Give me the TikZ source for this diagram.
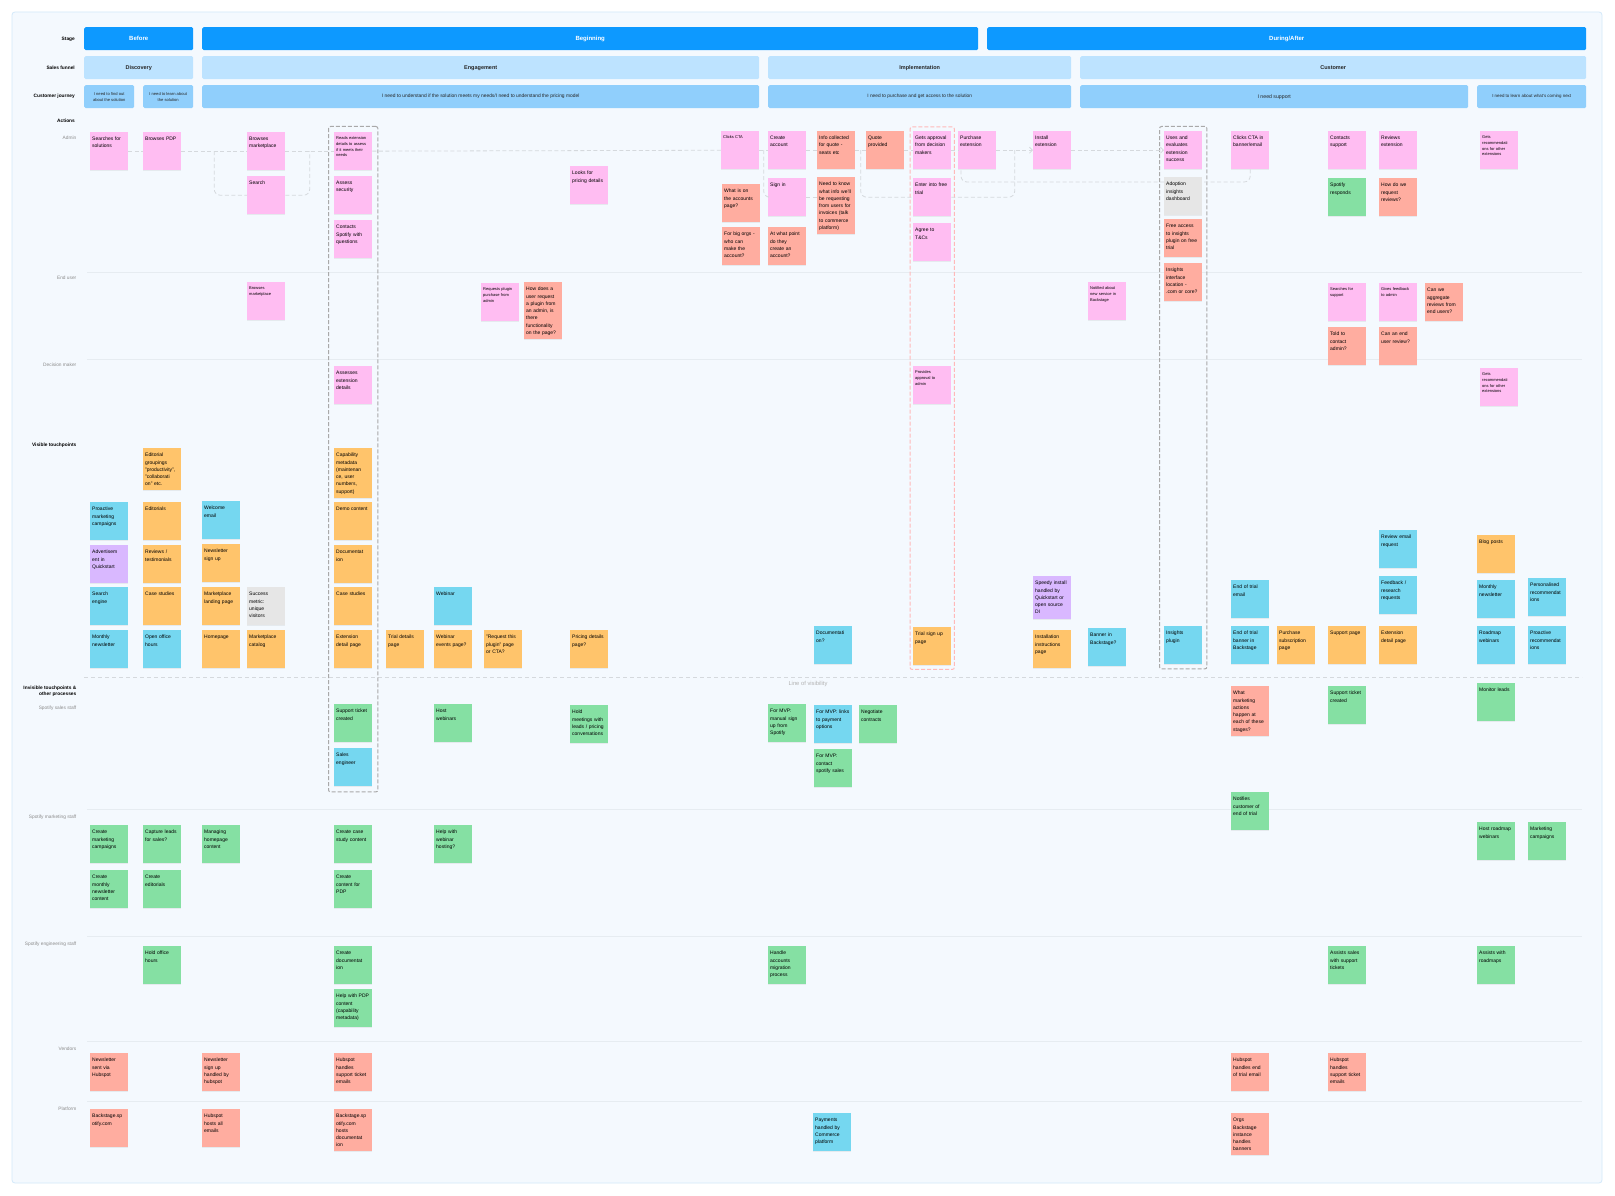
\documentclass[tikz,border=0pt]{standalone}
\usepackage{fontspec}
\setmainfont{Liberation Sans}
\usepackage{xcolor}
\usepackage{tikz}
\usetikzlibrary{arrows.meta,positioning,calc,fit,shadows}

\definecolor{boardbg}{HTML}{F4F9FE}
\definecolor{boardline}{HTML}{D3E9FA}
\definecolor{stagebg}{HTML}{0D99FF}
\definecolor{funnelbg}{HTML}{BDE3FF}
\definecolor{journeybg}{HTML}{90CFFC}
\definecolor{notepink}{HTML}{FFBDF2}
\definecolor{notesalmon}{HTML}{FFADA0}
\definecolor{noteorange}{HTML}{FFC46B}
\definecolor{noteblue}{HTML}{75D7F0}
\definecolor{notegreen}{HTML}{85E0A3}
\definecolor{notepurple}{HTML}{D9B8FF}
\definecolor{notegray}{HTML}{E6E6E6}
\definecolor{lanegray}{HTML}{E6ECF1}
\definecolor{labelgray}{HTML}{8C8C8C}
\definecolor{flowgray}{HTML}{D5D9DD}
\definecolor{groupgray}{HTML}{A9A9A9}
\definecolor{trialred}{HTML}{FFB9B9}

\begin{document}
\begin{tikzpicture}[x=1pt,y=-1pt,>=Latex]
  \tikzstyle{note}=[anchor=north west,inner xsep=2pt,inner ysep=3pt,text width=34pt,align=left,text height=5.5pt,text depth=26.5pt,font=\fontsize{5}{7.3}\selectfont,drop shadow={opacity=.12,shadow xshift=0pt,shadow yshift=-.8pt}]
  \tikzstyle{fine}=[font=\fontsize{4}{5.7}\selectfont,text height=4.5pt,text depth=27.5pt]
  \tikzstyle{pinknote}=[note,fill=notepink]
  \tikzstyle{salmonnote}=[note,fill=notesalmon]
  \tikzstyle{orangenote}=[note,fill=noteorange]
  \tikzstyle{bluenote}=[note,fill=noteblue]
  \tikzstyle{greennote}=[note,fill=notegreen]
  \tikzstyle{purplenote}=[note,fill=notepurple]
  \tikzstyle{graynote}=[note,fill=notegray]
  \tikzstyle{band}=[anchor=north west,inner sep=0pt,minimum height=23pt,rounded corners=1.5pt,align=center]
  \tikzstyle{stagebox}=[band,fill=stagebg,text=white,font=\bfseries\fontsize{6}{7}\selectfont]
  \tikzstyle{funnelbox}=[band,fill=funnelbg,text=black!85,font=\bfseries\fontsize{5.5}{6.5}\selectfont]
  \tikzstyle{journeybox}=[band,fill=journeybg,text=black!85,font=\fontsize{4.9}{5.8}\selectfont]
  \tikzstyle{rowhead}=[anchor=east,inner sep=0pt,align=right,font=\bfseries\fontsize{4.8}{6.2}\selectfont]
  \tikzstyle{lanehead}=[anchor=east,inner sep=0pt,text=labelgray,font=\fontsize{4.8}{6}\selectfont]
  \tikzstyle{flow}=[draw=flowgray,line width=.8pt,dash pattern=on 4pt off 2.5pt,rounded corners=6pt]
  \tikzstyle{group}=[draw=groupgray,line width=1pt,dash pattern=on 4pt off 2pt,rounded corners=2pt,inner sep=5pt]

  \fill[white] (0,0) rectangle (1615,1196);
  \useasboundingbox (0,0) rectangle (1615,1196);
  \filldraw[fill=boardbg,draw=boardline,line width=.8pt,rounded corners=3pt] (12,12) rectangle (1602,1183);

  % header bands
  \node[stagebox,minimum width=109pt] (before) at (84,27) {Before};
  \node[stagebox,minimum width=776pt] (beginning) at (202,27) {Beginning};
  \node[stagebox,minimum width=599pt] (during) at (987,27) {During/After};
  \node[funnelbox,minimum width=109pt] (discovery) at (84,56) {Discovery};
  \node[funnelbox,minimum width=557pt] (engagement) at (202,56) {Engagement};
  \node[funnelbox,minimum width=303pt] (implementation) at (768,56) {Implementation};
  \node[funnelbox,minimum width=506pt] (customer) at (1080,56) {Customer};
  \node[journeybox,minimum width=50pt,font=\fontsize{4.1}{5.8}\selectfont] (findout) at (84,85) {I need to find out\\about the solution};
  \node[journeybox,minimum width=50pt,font=\fontsize{4.1}{5.8}\selectfont] (learn) at (143,85) {I need to learn about\\the solution};
  \node[journeybox,minimum width=557pt] (understand) at (202,85) {I need to understand if the solution meets my needs/I need to understand the pricing model};
  \node[journeybox,minimum width=303pt,font=\fontsize{4.8}{5.8}\selectfont] (access) at (768,85) {I need to purchase and get access to the solution};
  \node[journeybox,minimum width=388pt,font=\fontsize{5.2}{6}\selectfont] (needsupport) at (1080,85) {I need support};
  \node[journeybox,minimum width=109pt,font=\fontsize{4.4}{5.8}\selectfont] (comingnext) at (1477,85) {I need to learn about what's coming next};

  % row labels
  \node[rowhead] (stagelbl) at (75,39) {Stage};
  \node[rowhead] (funnellbl) at (75,68) {Sales funnel};
  \node[rowhead] (journeylbl) at (75,96) {Customer journey};
  \node[rowhead] (actionslbl) at (75,121) {Actions};
  \node[lanehead] (adminlbl) at (76.5,138) {Admin};
  \node[lanehead] (enduserlbl) at (76.5,278) {End user};
  \node[lanehead] (deciderlbl) at (76.5,365) {Decision maker};
  \node[rowhead] (visiblelbl) at (76.5,445) {Visible touchpoints};
  \node[rowhead] (invisiblelbl) at (76.5,691) {Invisible touchpoints \&\\other processes};
  \node[lanehead] (saleslbl) at (76.5,708) {Spotify sales staff};
  \node[lanehead] (marketinglbl) at (76.5,817) {Spotify marketing staff};
  \node[lanehead] (engineeringlbl) at (76.5,944) {Spotify engineering staff};
  \node[lanehead] (vendorslbl) at (76.5,1049) {Vendors};
  \node[lanehead] (platformlbl) at (76.5,1109) {Platform};

  % lane lines
  \foreach \y in {272,359,809,936,1041,1101}
    \draw[lanegray,line width=.7pt] (87,\y) -- (1582,\y);
  \draw[flowgray,line width=.8pt,dash pattern=on 4pt off 3pt] (84,677) -- (1582,677);
  \node[text=black!30,font=\fontsize{5.8}{7}\selectfont] (visibility) at (808,684) {Line of visibility};

  % admin
  \node[pinknote] (searches) at (90,132) {Searches for\\solutions};
  \node[pinknote] (browsepdp) at (143,132) {Browses PDP};
  \node[pinknote] (browsemkt) at (247,132) {Browses\\marketplace};
  \node[pinknote] (search) at (247,176) {Search};
  \node[pinknote,fine] (readsdetails) at (334,132) {Reads extension\\details to assess\\if it meets their\\needs};
  \node[pinknote] (security) at (334,176) {Assess\\security};
  \node[pinknote] (contacts) at (334,220) {Contacts\\Spotify with\\questions};
  \node[pinknote] (pricing) at (570,166) {Looks for\\pricing details};
  \node[pinknote,fine] (clickscta) at (721,131) {Clicks CTA};
  \node[pinknote] (createacc) at (768,131) {Create\\account};
  \node[salmonnote] (accpage) at (722,184) {What is on\\the accounts\\page?};
  \node[pinknote] (signin) at (768,178) {Sign in};
  \node[salmonnote] (bigorgs) at (722,227) {For big orgs -\\who can\\make the\\account?};
  \node[salmonnote] (whatpoint) at (768,227) {At what point\\do they\\create an\\account?};
  \node[salmonnote] (infoquote) at (817,131) {Info collected\\for quote -\\seats etc};
  \node[salmonnote,text depth=45.5pt] (invoices) at (817,177) {Need to know\\what info we'll\\be requesting\\from users for\\invoices (talk\\to commerce\\platform)};
  \node[salmonnote] (quote) at (866,131) {Quote\\provided};
  \node[pinknote] (approval) at (913,131) {Gets approval\\from decision\\makers};
  \node[pinknote] (freetrial) at (913,178) {Enter into free\\trial};
  \node[pinknote] (terms) at (913,223) {Agree to\\T\&Cs};
  \node[pinknote] (purchase) at (958,131) {Purchase\\extension};
  \node[pinknote] (install) at (1033,131) {Install\\extension};
  \node[pinknote] (evaluates) at (1164,131) {Uses and\\evaluates\\extension\\success};
  \node[graynote] (dashboard) at (1164,177) {Adoption\\insights\\dashboard};
  \node[salmonnote] (freeaccess) at (1164,219) {Free access\\to insights\\plugin on free\\trial};
  \node[salmonnote] (location) at (1164,263) {Insights\\interface\\location -\\.com or core?};
  \node[pinknote] (clicksbanner) at (1231,131) {Clicks CTA in\\banner/email};
  \node[pinknote] (support) at (1328,131) {Contacts\\support};
  \node[pinknote] (reviews) at (1379,131) {Reviews\\extension};
  \node[greennote] (responds) at (1328,178) {Spotify\\responds};
  \node[salmonnote] (askreviews) at (1379,178) {How do we\\request\\reviews?};
  \node[pinknote,fine] (recsadmin) at (1480,131) {Gets\\recommendati\\ons for other\\extensions};

  % end user
  \node[pinknote,fine] (browseuser) at (247,282) {Browses\\marketplace};
  \node[pinknote,fine] (requests) at (481,283) {Requests plugin\\purchase from\\admin};
  \node[salmonnote,text depth=45.5pt] (howrequest) at (524,282) {How does a\\user request\\a plugin from\\an admin, is\\there\\functionality\\on the page?};
  \node[pinknote,fine] (notified) at (1088,282) {Notified about\\new service in\\Backstage};
  \node[pinknote,fine] (searchsupport) at (1328,283) {Searches for\\support};
  \node[pinknote,fine] (feedback) at (1379,283) {Gives feedback\\to admin};
  \node[salmonnote] (aggregate) at (1425,283) {Can we\\aggregate\\reviews from\\end users?};
  \node[salmonnote] (toldadmin) at (1328,327) {Told to\\contact\\admin?};
  \node[salmonnote] (userreview) at (1379,327) {Can an end\\user review?};

  % decision maker
  \node[pinknote] (assesses) at (334,366) {Assesses\\extension\\details};
  \node[pinknote,fine] (provides) at (913,366) {Provides\\approval to\\admin};
  \node[pinknote,fine] (recsdecider) at (1480,368) {Gets\\recommendati\\ons for other\\extensions};

  % visible touchpoints
  \node[orangenote,text depth=30.5pt] (groupings) at (143,448) {Editorial\\groupings\\"productivity",\\"collaborati\\on" etc.};
  \node[orangenote,text depth=38.5pt] (capability) at (334,448) {Capability\\metadata\\(maintenan\\ce, user\\numbers,\\support)};
  \node[bluenote] (proactive) at (90,502) {Proactive\\marketing\\campaigns};
  \node[orangenote] (editorials) at (143,502) {Editorials};
  \node[bluenote] (welcome) at (202,501) {Welcome\\email};
  \node[orangenote] (demo) at (334,502) {Demo content};
  \node[purplenote] (advert) at (90,545) {Advertisem\\ent in\\Quickstart};
  \node[orangenote] (testimonials) at (143,545) {Reviews /\\testimonials};
  \node[orangenote] (signup) at (202,544) {Newsletter\\sign up};
  \node[orangenote] (docs) at (334,545) {Documentat\\ion};
  \node[bluenote] (searchengine) at (90,587) {Search\\engine};
  \node[orangenote] (cases) at (143,587) {Case studies};
  \node[orangenote] (landing) at (202,587) {Marketplace\\landing page};
  \node[graynote] (visitors) at (247,587) {Success\\metric:\\unique\\visitors};
  \node[orangenote] (casesext) at (334,587) {Case studies};
  \node[bluenote] (newsletter) at (90,630) {Monthly\\newsletter};
  \node[bluenote] (officehours) at (143,630) {Open office\\hours};
  \node[orangenote] (homepage) at (202,630) {Homepage};
  \node[orangenote] (catalog) at (247,630) {Marketplace\\catalog};
  \node[orangenote] (detailpage) at (334,630) {Extension\\detail page};
  \node[orangenote] (trialdetails) at (386,630) {Trial details\\page};
  \node[bluenote] (webinar) at (434,587) {Webinar};
  \node[orangenote] (webinarpage) at (434,630) {Webinar\\events page?};
  \node[orangenote] (requestpage) at (484,630) {"Request this\\plugin" page\\or CTA?};
  \node[orangenote] (pricingpage) at (570,630) {Pricing details\\page?};
  \node[bluenote] (docsq) at (814,626) {Documentati\\on?};
  \node[orangenote] (trialsignup) at (913,627) {Trial sign up\\page};
  \node[purplenote,text depth=31.5pt] (speedy) at (1033,576) {Speedy install\\handled by\\Quickstart or\\open source\\DI};
  \node[orangenote] (installpage) at (1033,630) {Installation\\instructions\\page};
  \node[bluenote] (banner) at (1088,628) {Banner in\\Backstage?};
  \node[bluenote] (insightsplugin) at (1164,626) {Insights\\plugin};
  \node[bluenote] (reviewemail) at (1379,530) {Review email\\request};
  \node[orangenote] (blog) at (1477,535) {Blog posts};
  \node[bluenote] (trialemail) at (1231,580) {End of trial\\email};
  \node[bluenote] (research) at (1379,576) {Feedback /\\research\\requests};
  \node[bluenote] (newsletter2) at (1477,580) {Monthly\\newsletter};
  \node[bluenote] (personalised) at (1528,578) {Personalised\\recommendat\\ions};
  \node[bluenote] (trialbanner) at (1231,626) {End of trial\\banner in\\Backstage};
  \node[orangenote] (subscription) at (1277,626) {Purchase\\subscription\\page};
  \node[orangenote] (supportpage) at (1328,626) {Support page};
  \node[orangenote] (detailpage2) at (1379,626) {Extension\\detail page};
  \node[bluenote] (roadmap) at (1477,626) {Roadmap\\webinars};
  \node[bluenote] (proactiverecs) at (1528,626) {Proactive\\recommendat\\ions};

  % sales staff
  \node[greennote] (ticket) at (334,704) {Support ticket\\created};
  \node[bluenote] (engineer) at (334,748) {Sales\\engineer};
  \node[greennote] (hostweb) at (434,704) {Host\\webinars};
  \node[greennote] (meetings) at (570,705) {Hold\\meetings with\\leads / pricing\\conversations};
  \node[greennote] (manualsignup) at (768,704) {For MVP:\\manual sign\\up from\\Spotify};
  \node[bluenote] (paylinks) at (814,705) {\mbox{For MVP: links}\\to payment\\options};
  \node[greennote] (negotiate) at (859,705) {Negotiate\\contracts};
  \node[greennote] (contactsales) at (814,749) {For MVP:\\contact\\spotify sales};
  \node[salmonnote,text depth=38.5pt] (mktactions) at (1231,686) {What\\marketing\\actions\\happen at\\each of these\\stages?};
  \node[greennote] (ticket2) at (1328,686) {Support ticket\\created};
  \node[greennote] (leads) at (1477,683) {Monitor leads};
  \node[greennote] (notifies) at (1231,792) {Notifies\\customer of\\end of trial};

  % marketing staff
  \node[greennote] (mktcampaigns) at (90,825) {Create\\marketing\\campaigns};
  \node[greennote] (captureleads) at (143,825) {Capture leads\\for sales?};
  \node[greennote] (homecontent) at (202,825) {Managing\\homepage\\content};
  \node[greennote] (casecontent) at (334,825) {Create case\\study content};
  \node[greennote] (webhosting) at (434,825) {Help with\\webinar\\hosting?};
  \node[greennote] (newscontent) at (90,870) {Create\\monthly\\newsletter\\content};
  \node[greennote] (createeditorials) at (143,870) {Create\\editorials};
  \node[greennote] (pdpcontent) at (334,870) {Create\\content for\\PDP};
  \node[greennote] (roadmapweb) at (1477,822) {Host roadmap\\webinars};
  \node[greennote] (campaigns2) at (1528,822) {Marketing\\campaigns};

  % engineering staff
  \node[greennote] (holdhours) at (143,946) {Hold office\\hours};
  \node[greennote] (createdocs) at (334,946) {Create\\documentat\\ion};
  \node[greennote] (pdphelp) at (334,989) {Help with PDP\\content\\(capability\\metadata)};
  \node[greennote] (migration) at (768,946) {Handle\\accounts\\migration\\process};
  \node[greennote] (assistsales) at (1328,946) {Assists sales\\with support\\tickets};
  \node[greennote] (assistroadmap) at (1477,946) {Assists with\\roadmaps};

  % vendors
  \node[salmonnote] (sentvia) at (90,1053) {Newsletter\\sent via\\Hubspot};
  \node[salmonnote] (signuphub) at (202,1053) {Newsletter\\sign up\\handled by\\hubspot};
  \node[salmonnote] (ticketmail) at (334,1053) {Hubspot\\handles\\support ticket\\emails};
  \node[salmonnote] (trialmail) at (1231,1053) {Hubspot\\handles end\\of trial email};
  \node[salmonnote] (ticketmail2) at (1328,1053) {Hubspot\\handles\\support ticket\\emails};

  % platform
  \node[salmonnote] (bsite) at (90,1109) {Backstage.sp\\otify.com};
  \node[salmonnote] (hostsmail) at (202,1109) {Hubspot\\hosts all\\emails};
  \node[salmonnote,text depth=30.5pt] (hostsdocs) at (334,1109) {Backstage.sp\\otify.com\\hosts\\documentat\\ion};
  \node[bluenote] (payments) at (813,1113) {Payments\\handled by\\Commerce\\platform};
  \node[salmonnote,text depth=30.5pt] (orgs) at (1231,1113) {Orgs\\Backstage\\instance\\handles\\banners};

  % groups
  \node[group,inner sep=5.5pt,fit=(readsdetails)(engineer)] (evalgroup) {};
  \node[group,draw=trialred,inner xsep=3pt,inner ysep=4pt,fit=(approval)(trialsignup)] (trialgroup) {};
  \node[group,inner sep=4.5pt,fit=(evaluates)(insightsplugin)] (insightsgroup) {};

  % admin flow
  \draw[flow] (searches) -- (browsepdp);
  \draw[flow] (browsepdp) -- (browsemkt);
  \draw[flow] (browsemkt) -- (readsdetails);
  \draw[flow] (readsdetails) -- (clickscta);
  \draw[flow] (clickscta) -- (createacc);
  \draw[flow] (createacc) -- (infoquote);
  \draw[flow] (infoquote) -- (quote);
  \draw[flow] (quote) -- (approval);
  \draw[flow] (approval) -- (purchase);
  \draw[flow,-{Straight Barb[length=3pt]}] (purchase) -- (install);
  \draw[flow,-{Straight Barb[length=3pt]}] (install) -- (evaluates);
  \draw[flow] ($(browsepdp.east)!.5!(browsemkt.west)$) |- (search.west);
  \draw[flow] (search.east) -| ($(browsemkt.east)!.5!(readsdetails.west)$);
  \draw[flow] ($(clickscta.east)!.5!(createacc.west)$) |- (signin.west);
  \draw[flow] (signin.east) -- (signin.east -| invoices.west);
  \draw[flow] ($(infoquote.east)!.5!(quote.west)$) |- (freetrial.west);
  \draw[flow] (freetrial.east) -| ($(purchase.east)!.5!(install.west)$);
  \draw[flow] (clicksbanner.south) |- ($(dashboard.north east)+(0,5)$);
  \draw[flow] ($(dashboard.north west)+(0,5)$) -| ($(purchase.south west)+(3,0)$);
\end{tikzpicture}
\end{document}
